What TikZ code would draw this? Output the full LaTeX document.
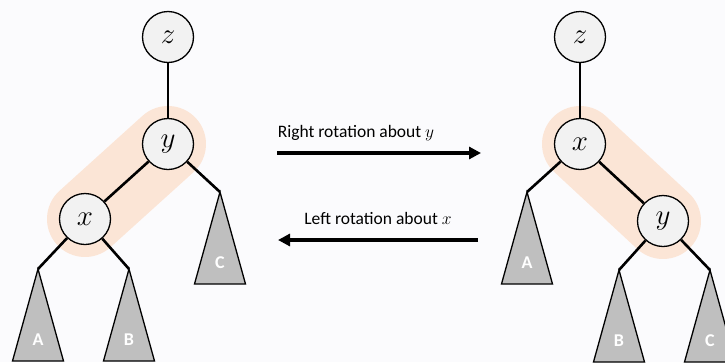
\RequirePackage{fix-cm}
\documentclass[tikz,border=0pt]{standalone}
\usepackage{fontspec}
\setmainfont{Carlito}
\usetikzlibrary{arrows.meta,calc}
\definecolor{bg}{RGB}{251,251,253}
\definecolor{hl}{RGB}{251,229,214}
\definecolor{keyfill}{RGB}{242,242,242}
\definecolor{subtreefill}{RGB}{191,191,191}
\tikzset{
  keynode/.style={circle, draw=black, line width=1.3pt, fill=keyfill,
    minimum size=51pt, inner sep=0pt, font=\fontsize{29}{33}\selectfont},
  edge/.style={line width=2.6pt},
  pair/.style={line width=76pt, draw=hl, line cap=round},
  subtreebox/.style={fill=subtreefill, draw=black, line width=1.3pt, line join=miter},
  treelabel/.style={text=white, inner sep=0pt, font=\bfseries\fontsize{18}{21}\selectfont},
  rot/.style={line width=3.5pt, -{Triangle[length=12pt,width=12pt]}},
  caption/.style={inner sep=0pt, font=\fontsize{17.5}{20}\selectfont}
}
% a subtree: triangle hanging from its apex
\newcommand\subtreeat[4]{% name, apex x, apex y, label
  \coordinate (#1) at (#2,#3);
  \draw[subtreebox] (#1) -- ++(-25.5,92) -- ++(51,0) -- cycle;
  \node[treelabel] (#1lab) at ($(#1)+(0,71)$) {#4};
}
\begin{document}
\begin{tikzpicture}[x=1pt, y=-1pt]
  \fill[bg] (0,0) rectangle (725,362);
  \useasboundingbox (0,0) rectangle (725,362);

  % ---- before: y is the parent of x ----
  \coordinate (ly) at (168,144);
  \coordinate (lx) at (85,219);
  \draw[pair] (ly) -- (lx);
  \subtreeat{lA}{38}{269}{A}
  \subtreeat{lB}{129}{269}{B}
  \subtreeat{lC}{220}{192}{C}
  \node[keynode] (Lz) at (168,37) {$z$};
  \node[keynode] (Ly) at (ly) {$y$};
  \node[keynode] (Lx) at (lx) {$x$};
  \draw[edge] (Lz) -- (Ly);
  \draw[edge] (Ly) -- (Lx);
  \draw[edge] (Ly) -- (lC);
  \draw[edge] (Lx) -- (lA);
  \draw[edge] (Lx) -- (lB);

  % ---- after: x is the parent of y ----
  \coordinate (rx) at (580,144);
  \coordinate (ry) at (663,221);
  \draw[pair] (rx) -- (ry);
  \subtreeat{rA}{527}{192}{A}
  \subtreeat{rB}{619}{270}{B}
  \subtreeat{rC}{710}{270}{C}
  \node[keynode] (Rz) at (580,37) {$z$};
  \node[keynode] (Rx) at (rx) {$x$};
  \node[keynode] (Ry) at (ry) {$y$};
  \draw[edge] (Rz) -- (Rx);
  \draw[edge] (Rx) -- (Ry);
  \draw[edge] (Rx) -- (rA);
  \draw[edge] (Ry) -- (rB);
  \draw[edge] (Ry) -- (rC);

  % ---- rotations ----
  \coordinate (r1) at (277,153);
  \coordinate (r2) at (481,153);
  \coordinate (l1) at (478,240);
  \coordinate (l2) at (278,240);
  \node[caption] (rcap) at (356,133) {Right rotation about $y$};
  \node[caption] (lcap) at (378,218) {Left rotation about $x$};
  \draw[rot] (r1) -- (r2);
  \draw[rot] (l1) -- (l2);
\end{tikzpicture}
\end{document}
